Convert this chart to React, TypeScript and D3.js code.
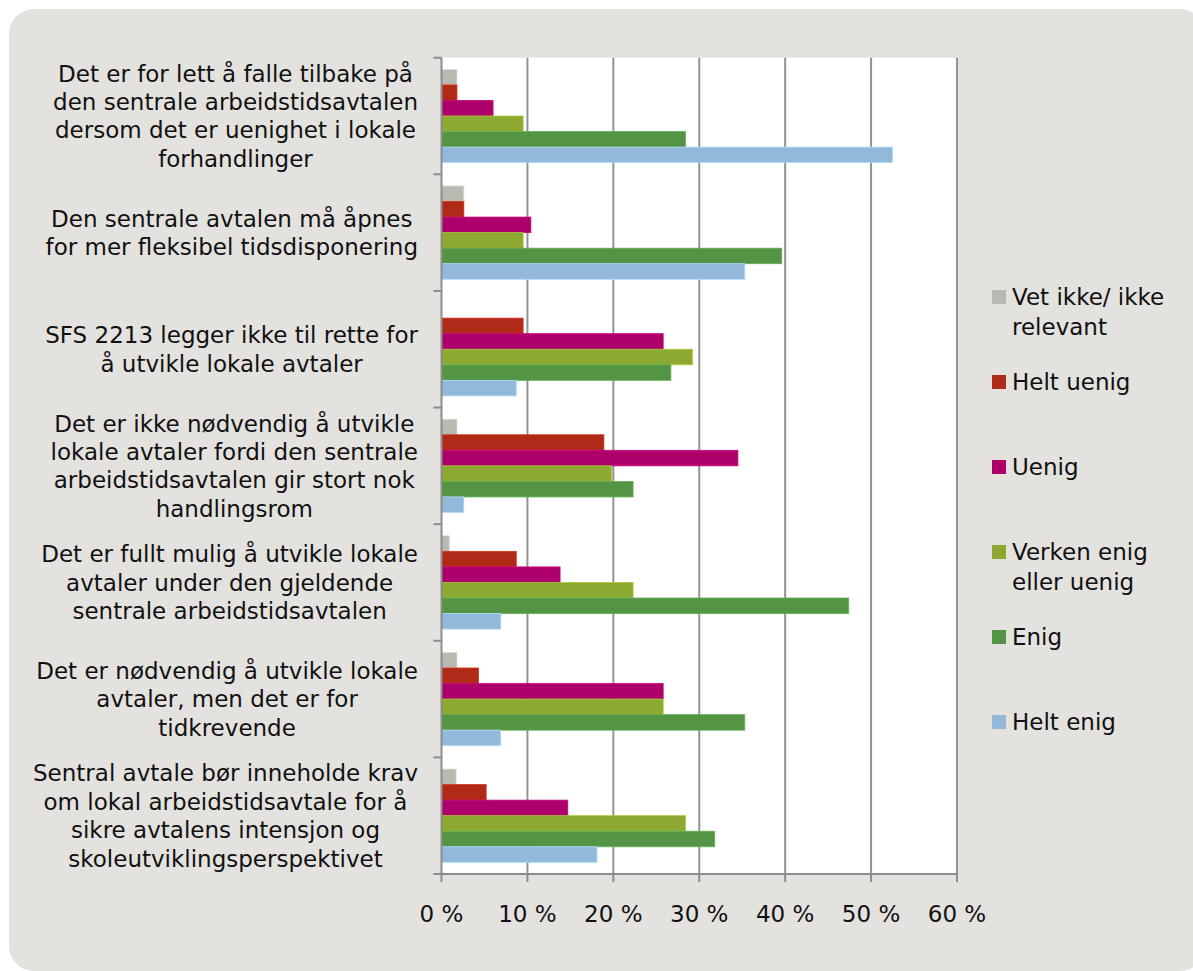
import React, { useEffect, useRef } from "react";
import * as d3 from "d3";

const categoryLines: string[][] = [
  ["Det er for lett å falle tilbake på", "den sentrale arbeidstidsavtalen", "dersom det er uenighet i lokale", "forhandlinger"],
  ["Den sentrale avtalen må åpnes", "for mer fleksibel tidsdisponering"],
  ["SFS 2213 legger ikke til rette for", "å utvikle lokale avtaler"],
  ["Det er ikke nødvendig å utvikle", "lokale avtaler fordi den sentrale", "arbeidstidsavtalen gir stort nok", "handlingsrom"],
  ["Det er fullt mulig å utvikle lokale", "avtaler under den gjeldende", "sentrale arbeidstidsavtalen"],
  ["Det er nødvendig å utvikle lokale", "avtaler, men det er for", "tidkrevende"],
  ["Sentral avtale bør inneholde krav", "om lokal arbeidstidsavtale for å", "sikre avtalens intensjon og", "skoleutviklingsperspektivet"],
];

const seriesNames = ["Vet ikke/ ikke relevant", "Helt uenig", "Uenig", "Verken enig eller uenig", "Enig", "Helt enig"];
const legendLines: string[][] = [["Vet ikke/ ikke", "relevant"], ["Helt uenig"], ["Uenig"], ["Verken enig", "eller uenig"], ["Enig"], ["Helt enig"]];
const seriesColors = ["#b9b9b1", "#b02b17", "#ae006a", "#8da932", "#539445", "#92b9da"];

const vetIkke = [1.8, 2.6, 0, 1.8, 0.9, 1.8, 1.7];
const heltUenig = [1.8, 2.6, 9.5, 18.9, 8.7, 4.3, 5.2];
const uenig = [6.0, 10.4, 25.8, 34.5, 13.8, 25.8, 14.7];
const verken = [9.5, 9.5, 29.2, 19.8, 22.3, 25.8, 28.4];
const enig = [28.4, 39.6, 26.7, 22.3, 47.4, 35.3, 31.8];
const heltEnig = [52.5, 35.3, 8.7, 2.6, 6.9, 6.9, 18.1];
const seriesValues = [vetIkke, heltUenig, uenig, verken, enig, heltEnig];

const xTicks = [0, 10, 20, 30, 40, 50, 60];

const W = 1193;
const H = 971;
const FONT = "'DejaVu Sans', Verdana, sans-serif";
const FS = 23;

export default function App() {
  const ref = useRef<SVGSVGElement | null>(null);

  useEffect(() => {
    const svg = d3.select(ref.current);
    svg.selectAll("*").remove();

    const left = 441.5, right = 957, top = 57.7, bottom = 874;
    const x = d3.scaleLinear().domain([0, 60]).range([left, right]);
    const idx = categoryLines.map((_, i) => String(i));
    const y = d3.scaleBand().domain(idx).range([top, bottom]).padding(0);
    const gh = y.bandwidth();
    const yInner = d3.scaleBand().domain(seriesNames).range([gh * 0.1, gh * 0.9]).padding(0);

    svg.append("rect").attr("x", 9).attr("y", 9).attr("width", 1196).attr("height", 962)
      .attr("rx", 25).attr("fill", "#e4e2df");

    svg.append("rect").attr("x", left).attr("y", top).attr("width", right - left - 1).attr("height", bottom - top)
      .attr("fill", "#ffffff");

    // gridlines
    svg.append("g").selectAll("line").data(xTicks.filter((t) => t > 0)).join("line")
      .attr("x1", (d) => x(d)).attr("x2", (d) => x(d)).attr("y1", top).attr("y2", bottom)
      .attr("stroke", "#939393").attr("stroke-width", 2);

    // bars
    const gBars = svg.append("g");
    seriesNames.forEach((s, si) => {
      gBars.append("g").selectAll("rect").data(seriesValues[si]).join("rect")
        .attr("x", x(0))
        .attr("y", (_, i) => (y(String(i)) as number) + (yInner(s) as number))
        .attr("width", (d) => Math.max(0, x(d) - x(0)))
        .attr("height", yInner.bandwidth())
        .attr("fill", seriesColors[si])
        .attr("stroke", d3.color(seriesColors[si])!.brighter(0.5).formatHex())
        .attr("stroke-width", 0.8)
        .attr("display", (d) => (d > 0 ? null : "none"));
    });

    // left axis
    svg.append("line").attr("x1", left).attr("x2", left).attr("y1", top).attr("y2", bottom)
      .attr("stroke", "#8c8c8c").attr("stroke-width", 2);
    const bounds = idx.map((i) => y(i) as number).concat([bottom]);
    svg.append("g").selectAll("line").data(bounds).join("line")
      .attr("x1", left - 8).attr("x2", left).attr("y1", (d) => d).attr("y2", (d) => d)
      .attr("stroke", "#8c8c8c").attr("stroke-width", 2);

    // bottom axis
    svg.append("line").attr("x1", left - 8).attr("x2", right).attr("y1", bottom).attr("y2", bottom)
      .attr("stroke", "#8c8c8c").attr("stroke-width", 2);
    svg.append("g").selectAll("line").data(xTicks).join("line")
      .attr("x1", (d) => x(d)).attr("x2", (d) => x(d)).attr("y1", bottom).attr("y2", bottom + 8)
      .attr("stroke", "#8c8c8c").attr("stroke-width", 2);
    svg.append("g").selectAll("text").data(xTicks).join("text")
      .attr("x", (d) => x(d)).attr("y", 914).attr("dy", "0.36em")
      .attr("text-anchor", "middle").attr("font-family", FONT).attr("font-size", FS).attr("fill", "#111")
      .text((d) => `${d} %`);

    // category labels
    const lineH = 28.4;
    const blockRight = 418;
    categoryLines.forEach((lines, i) => {
      const g = svg.append("g");
      const cy = (y(String(i)) as number) + gh / 2;
      const texts = lines.map((ln, li) =>
        g.append("text")
          .attr("y", cy + (li - (lines.length - 1) / 2) * lineH)
          .attr("dy", "0.36em")
          .attr("text-anchor", "middle")
          .attr("font-family", FONT).attr("font-size", FS).attr("fill", "#111")
          .text(ln)
      );
      const maxW = d3.max(texts, (t) => (t.node() as SVGTextElement).getComputedTextLength()) || 0;
      texts.forEach((t) => t.attr("x", blockRight - maxW / 2));
    });

    // legend
    const legendY = [297, 382, 467, 552, 637, 722];
    legendLines.forEach((lines, i) => {
      const g = svg.append("g");
      g.append("rect").attr("x", 992).attr("y", legendY[i] - 7).attr("width", 14).attr("height", 14)
        .attr("fill", seriesColors[i]);
      lines.forEach((ln, li) => {
        g.append("text").attr("x", 1012).attr("y", legendY[i] + li * 30).attr("dy", "0.36em")
          .attr("font-family", FONT).attr("font-size", FS).attr("fill", "#111").text(ln);
      });
    });
  }, []);

  return <svg ref={ref} width={W} height={H} style={{ display: "block", position: "absolute", left: 0, top: 0 }} />;
}
